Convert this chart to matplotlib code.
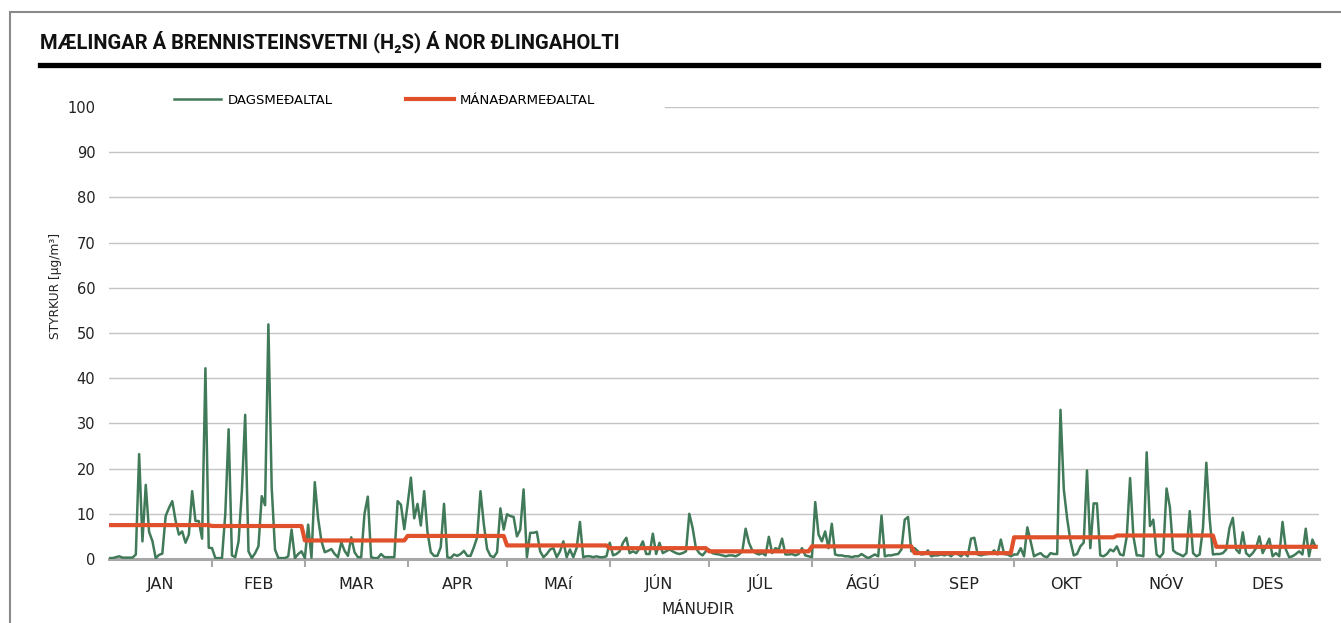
import numpy as np
import matplotlib
matplotlib.use("Agg")
import matplotlib.pyplot as plt
from matplotlib.lines import Line2D
from matplotlib.patches import Rectangle

# Daily mean H2S concentration (µg/m³), one list per month
jan = [0.2, 0.2, 0.4, 0.6, 0.3, 0.3, 0.3, 0.3, 1.0, 23.2,
       3.9, 16.4, 6.0, 4.0, 0.2, 0.9, 1.2, 9.5, 11.3, 12.8,
       8.5, 5.4, 6.1, 3.6, 5.4, 15.0, 8.4, 8.4, 4.5, 42.2, 2.5]
feb = [2.4, 0.2, 0.2, 0.2, 10.0, 28.7, 0.8, 0.4, 3.9, 15.0,
       31.9, 1.7, 0.2, 1.3, 2.8, 13.9, 11.9, 51.9, 15.8, 2.1,
       0.2, 0.2, 0.2, 0.6, 6.5, 0.2, 1.1, 1.7]
mar = [0.2, 7.6, 0.3, 17.0, 9.0, 4.0, 1.5, 1.8, 2.2, 1.1,
       0.4, 3.7, 1.8, 0.7, 4.8, 1.5, 0.4, 0.4, 10.0, 13.8,
       0.4, 0.2, 0.2, 1.1, 0.4, 0.4, 0.4, 0.4, 12.8, 12.0, 6.6]
apr = [12.0, 18.0, 9.0, 12.2, 7.4, 15.0, 6.0, 1.5, 0.7, 0.7,
       2.6, 12.2, 0.4, 0.2, 1.0, 0.7, 1.1, 1.8, 0.7, 0.7,
       2.6, 4.8, 15.0, 7.7, 2.2, 0.7, 0.4, 1.5, 11.2, 6.5]
mai = [9.9, 9.5, 9.3, 5.0, 6.5, 15.4, 0.4, 5.8, 5.8, 6.0,
       1.7, 0.4, 1.1, 2.1, 2.4, 0.4, 1.7, 3.9, 0.4, 2.1,
       0.4, 2.4, 8.2, 0.4, 0.6, 0.6, 0.4, 0.6, 0.4, 0.4, 0.6]
jun = [3.6, 0.8, 1.1, 1.7, 3.6, 4.7, 1.3, 1.7, 1.3, 2.4,
       3.9, 1.1, 1.1, 5.6, 1.1, 3.6, 1.3, 1.7, 2.1, 1.7,
       1.3, 1.1, 1.3, 1.7, 10.0, 6.9, 2.4, 1.3, 0.8, 1.7]
jul = [2.1, 1.3, 1.1, 1.0, 0.8, 0.6, 0.8, 0.8, 0.6, 1.0,
       1.7, 6.7, 3.6, 1.9, 1.3, 1.0, 1.3, 0.8, 4.9, 1.3,
       2.4, 2.1, 4.5, 1.0, 1.0, 1.1, 0.8, 1.1, 2.4, 0.8, 0.6]
agu = [0.4, 12.6, 5.4, 3.9, 6.1, 2.4, 7.8, 1.0, 0.8, 0.8,
       0.6, 0.6, 0.4, 0.6, 0.6, 1.1, 0.6, 0.2, 0.6, 1.0,
       0.6, 9.6, 0.6, 0.8, 0.8, 1.0, 1.1, 2.1, 8.7, 9.3, 1.7]
sep = [2.4, 1.7, 1.0, 1.1, 1.9, 0.6, 0.8, 0.8, 1.0, 0.8,
       1.1, 0.6, 1.3, 1.1, 0.6, 1.3, 0.6, 4.5, 4.7, 1.0,
       0.8, 1.0, 1.1, 1.3, 1.9, 1.0, 4.3, 1.1, 1.0, 0.6]
okt = [1.0, 1.0, 2.4, 0.6, 7.0, 3.9, 0.6, 1.0, 1.3, 0.6,
       0.4, 1.3, 1.1, 1.1, 33.0, 15.4, 9.0, 4.0, 0.8, 1.1,
       2.8, 3.6, 19.6, 2.4, 12.3, 12.3, 0.8, 0.6, 1.1, 2.1, 1.7]
nov = [2.8, 1.0, 0.8, 5.0, 17.9, 5.0, 0.8, 0.8, 0.6, 23.6,
       7.3, 8.7, 1.0, 0.4, 1.3, 15.6, 11.5, 1.9, 1.3, 1.0,
       0.6, 1.3, 10.6, 1.3, 0.6, 1.0, 6.9, 21.3, 9.0, 1.0]
des = [1.1, 1.1, 1.3, 2.1, 6.9, 9.1, 2.1, 1.3, 5.9, 1.3,
       0.6, 1.3, 2.4, 5.0, 1.3, 2.8, 4.5, 0.6, 1.3, 0.6,
       8.2, 2.1, 0.4, 0.6, 1.1, 1.7, 1.0, 6.7, 0.6, 4.3, 2.6]

months = ["JAN", "FEB", "MAR", "APR", "MAí", "JÚN",
          "JÚL", "ÁGÚ", "SEP", "OKT", "NÓV", "DES"]
monthly_mean = [7.5, 7.3, 4.1, 5.1, 3.0, 2.4, 1.7, 2.8, 1.3, 4.8, 5.2, 2.7]

daily_lists = [jan, feb, mar, apr, mai, jun, jul, agu, sep, okt, nov, des]
daily = np.concatenate([np.array(m) for m in daily_lists])
month_len = np.array([len(m) for m in daily_lists])
month_avg = np.repeat(monthly_mean, month_len)
days = np.arange(len(daily))
bounds = np.concatenate([[0], np.cumsum(month_len)])
mids = (bounds[:-1] + bounds[1:]) / 2

GREEN = "#417a59"
ORANGE = "#e0502a"
GRID = "#c4c4c4"
AXIS = "#a8a8a8"
TXT = "#222222"

W, H = 1341, 623
fig = plt.figure(figsize=(W / 100, H / 100), dpi=100)
ax = fig.add_axes([109.3 / W, 64 / H, (1319 - 109.3) / W, 452 / H])

ax.plot(days, daily, color=GREEN, lw=1.8, zorder=3, label="DAGSMEÐALTAL")
ax.plot(days, month_avg, color=ORANGE, lw=3.0, zorder=4, label="MÁNAÐARMEÐALTAL")

ax.set_xlim(0, 365)
ax.set_ylim(0, 100)
yt = np.arange(0, 101, 10)
ax.set_yticks(yt)
ax.set_yticklabels([str(v) for v in yt], fontsize=10.5, color=TXT)
ax.tick_params(axis="y", length=0, pad=10)

# gridlines, the top one starts where the legend ends
for v in yt[1:]:
    ax.axhline(v, xmin=0.459 if v == 100 else 0, xmax=1, color=GRID, lw=1.0, zorder=1)

ax.set_xticks(bounds[1:-1])
ax.set_xticklabels([])
ax.set_xticks(mids, minor=True)
ax.set_xticklabels(months, minor=True, fontsize=11.5, color=TXT)
for lbl in ax.get_xticklabels(minor=True):
    lbl.set_verticalalignment("baseline")
ax.tick_params(axis="x", which="major", length=6, width=1.5, color=AXIS, direction="out")
ax.tick_params(axis="x", which="minor", length=0, pad=21.5)

for s in ["top", "right", "left"]:
    ax.spines[s].set_visible(False)
ax.spines["bottom"].set_color(AXIS)
ax.spines["bottom"].set_linewidth(2.2)
ax.spines["bottom"].set_zorder(2)

leg = ax.legend(loc="center left", bbox_to_anchor=(174 / W, 1 - 100 / H),
                bbox_transform=fig.transFigure, ncol=2, frameon=False,
                borderpad=0, borderaxespad=0, handlelength=3.6,
                handletextpad=0.45, columnspacing=5.6,
                prop={"family": "DejaVu Sans", "size": 9.5})

fig.text(55 / W, 1 - 286 / H, "STYRKUR [µg/m³]", rotation=90, ha="center",
         va="center", fontsize=8.8, color=TXT)
fig.text(698 / W, 1 - 610 / H, "MÁNUÐIR", ha="center", va="center",
         fontsize=11, color=TXT)

# heading and rule
fig.text(40 / W, 1 - 42 / H, "MÆLINGAR Á BRENNISTEINSVETNI (H₂S) Á NOR ÐLINGAHOLTI",
         ha="left", va="center", fontsize=14.5, fontweight="bold",
         family=["Roboto", "DejaVu Sans"], color="#111111")
fig.add_artist(Line2D([40 / W, 1318 / W], [1 - 65 / H, 1 - 65 / H],
                      transform=fig.transFigure, color="black", lw=3.8))
fig.add_artist(Rectangle((10 / W, -0.2), 1.5, 1.2 - 12 / H, transform=fig.transFigure,
                         fill=False, edgecolor="#8a8a8a", lw=1.5))

fig.savefig("out.png", dpi=100)
